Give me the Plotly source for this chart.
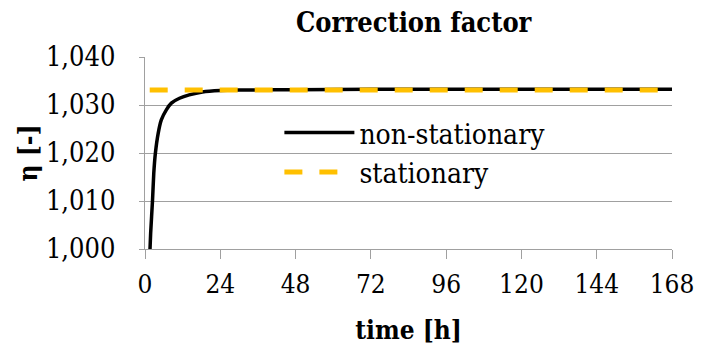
import plotly.graph_objects as go

# non-stationary correction factor
t_nonstat = [1.6, 1.8, 2.4, 2.8, 3.3, 4.2, 5.2, 6.8, 8.4, 11.0, 14.1, 18.3, 24, 30, 48, 72, 96, 120, 144, 168]
eta_nonstat = [1.0000, 1.0033, 1.0102, 1.0158, 1.0199, 1.0241, 1.0269, 1.0290, 1.0304, 1.0314,
               1.0321, 1.0327, 1.0330, 1.0331, 1.0332, 1.0333, 1.0333, 1.0333, 1.0333, 1.0333]

# stationary correction factor
t_stat = [1.5, 168]
eta_stat = [1.0331, 1.0331]

x_ticks = [0, 24, 48, 72, 96, 120, 144, 168]
y_ticks = [1.000, 1.010, 1.020, 1.030, 1.040]

FONT = "DejaVu Serif Condensed"

fig = go.Figure()
fig.add_trace(go.Scatter(x=t_nonstat, y=eta_nonstat, mode="lines", name="non-stationary",
                         line=dict(color="black", width=3.5, shape="spline", smoothing=0.6)))
fig.add_trace(go.Scatter(x=t_stat, y=eta_stat, mode="lines", name="stationary",
                         line=dict(color="#FFC000", width=5, dash="18px,17px")))

fig.update_layout(
    width=706, height=353,
    margin=dict(l=145, r=25, t=57, b=104),
    paper_bgcolor="white", plot_bgcolor="white",
    separators=",.",
    font=dict(family=FONT, size=27, color="black"),
    title=dict(text="<b>Correction factor</b>", x=0.586, xanchor="center", y=0.935, yanchor="middle",
               font=dict(family=FONT, size=27, color="black")),
    showlegend=True,
    legend=dict(x=0.255, y=0.735, xanchor="left", yanchor="top", bgcolor="rgba(0,0,0,0)",
                font=dict(family=FONT, size=28, color="black"), itemwidth=70, tracegroupgap=0),
    xaxis=dict(range=[0, 168], tickvals=x_ticks, showgrid=False, showline=True,
               linecolor="#A0A0A0", linewidth=1.3, ticks="outside", ticklen=9, tickcolor="#A0A0A0",
               ticklabelstandoff=3,
               tickfont=dict(family=FONT, size=26, color="black"),
               title=dict(text="<b>time [h]</b>", font=dict(family=FONT, size=26, color="black"), standoff=22),
               zeroline=False),
    yaxis=dict(range=[1.000, 1.040], tickvals=y_ticks, tickformat=".3f", showgrid=True,
               gridcolor="#A0A0A0", gridwidth=1.3, showline=True, linecolor="#A0A0A0", linewidth=1.3,
               ticks="outside", ticklen=5, tickcolor="#A0A0A0", ticklabelstandoff=18,
               tickfont=dict(family=FONT, size=27, color="black"),
               title=dict(text="<b>η [-]</b>", font=dict(family=FONT, size=26, color="black"), standoff=0),
               zeroline=False),
)

fig.write_html("out.html")
